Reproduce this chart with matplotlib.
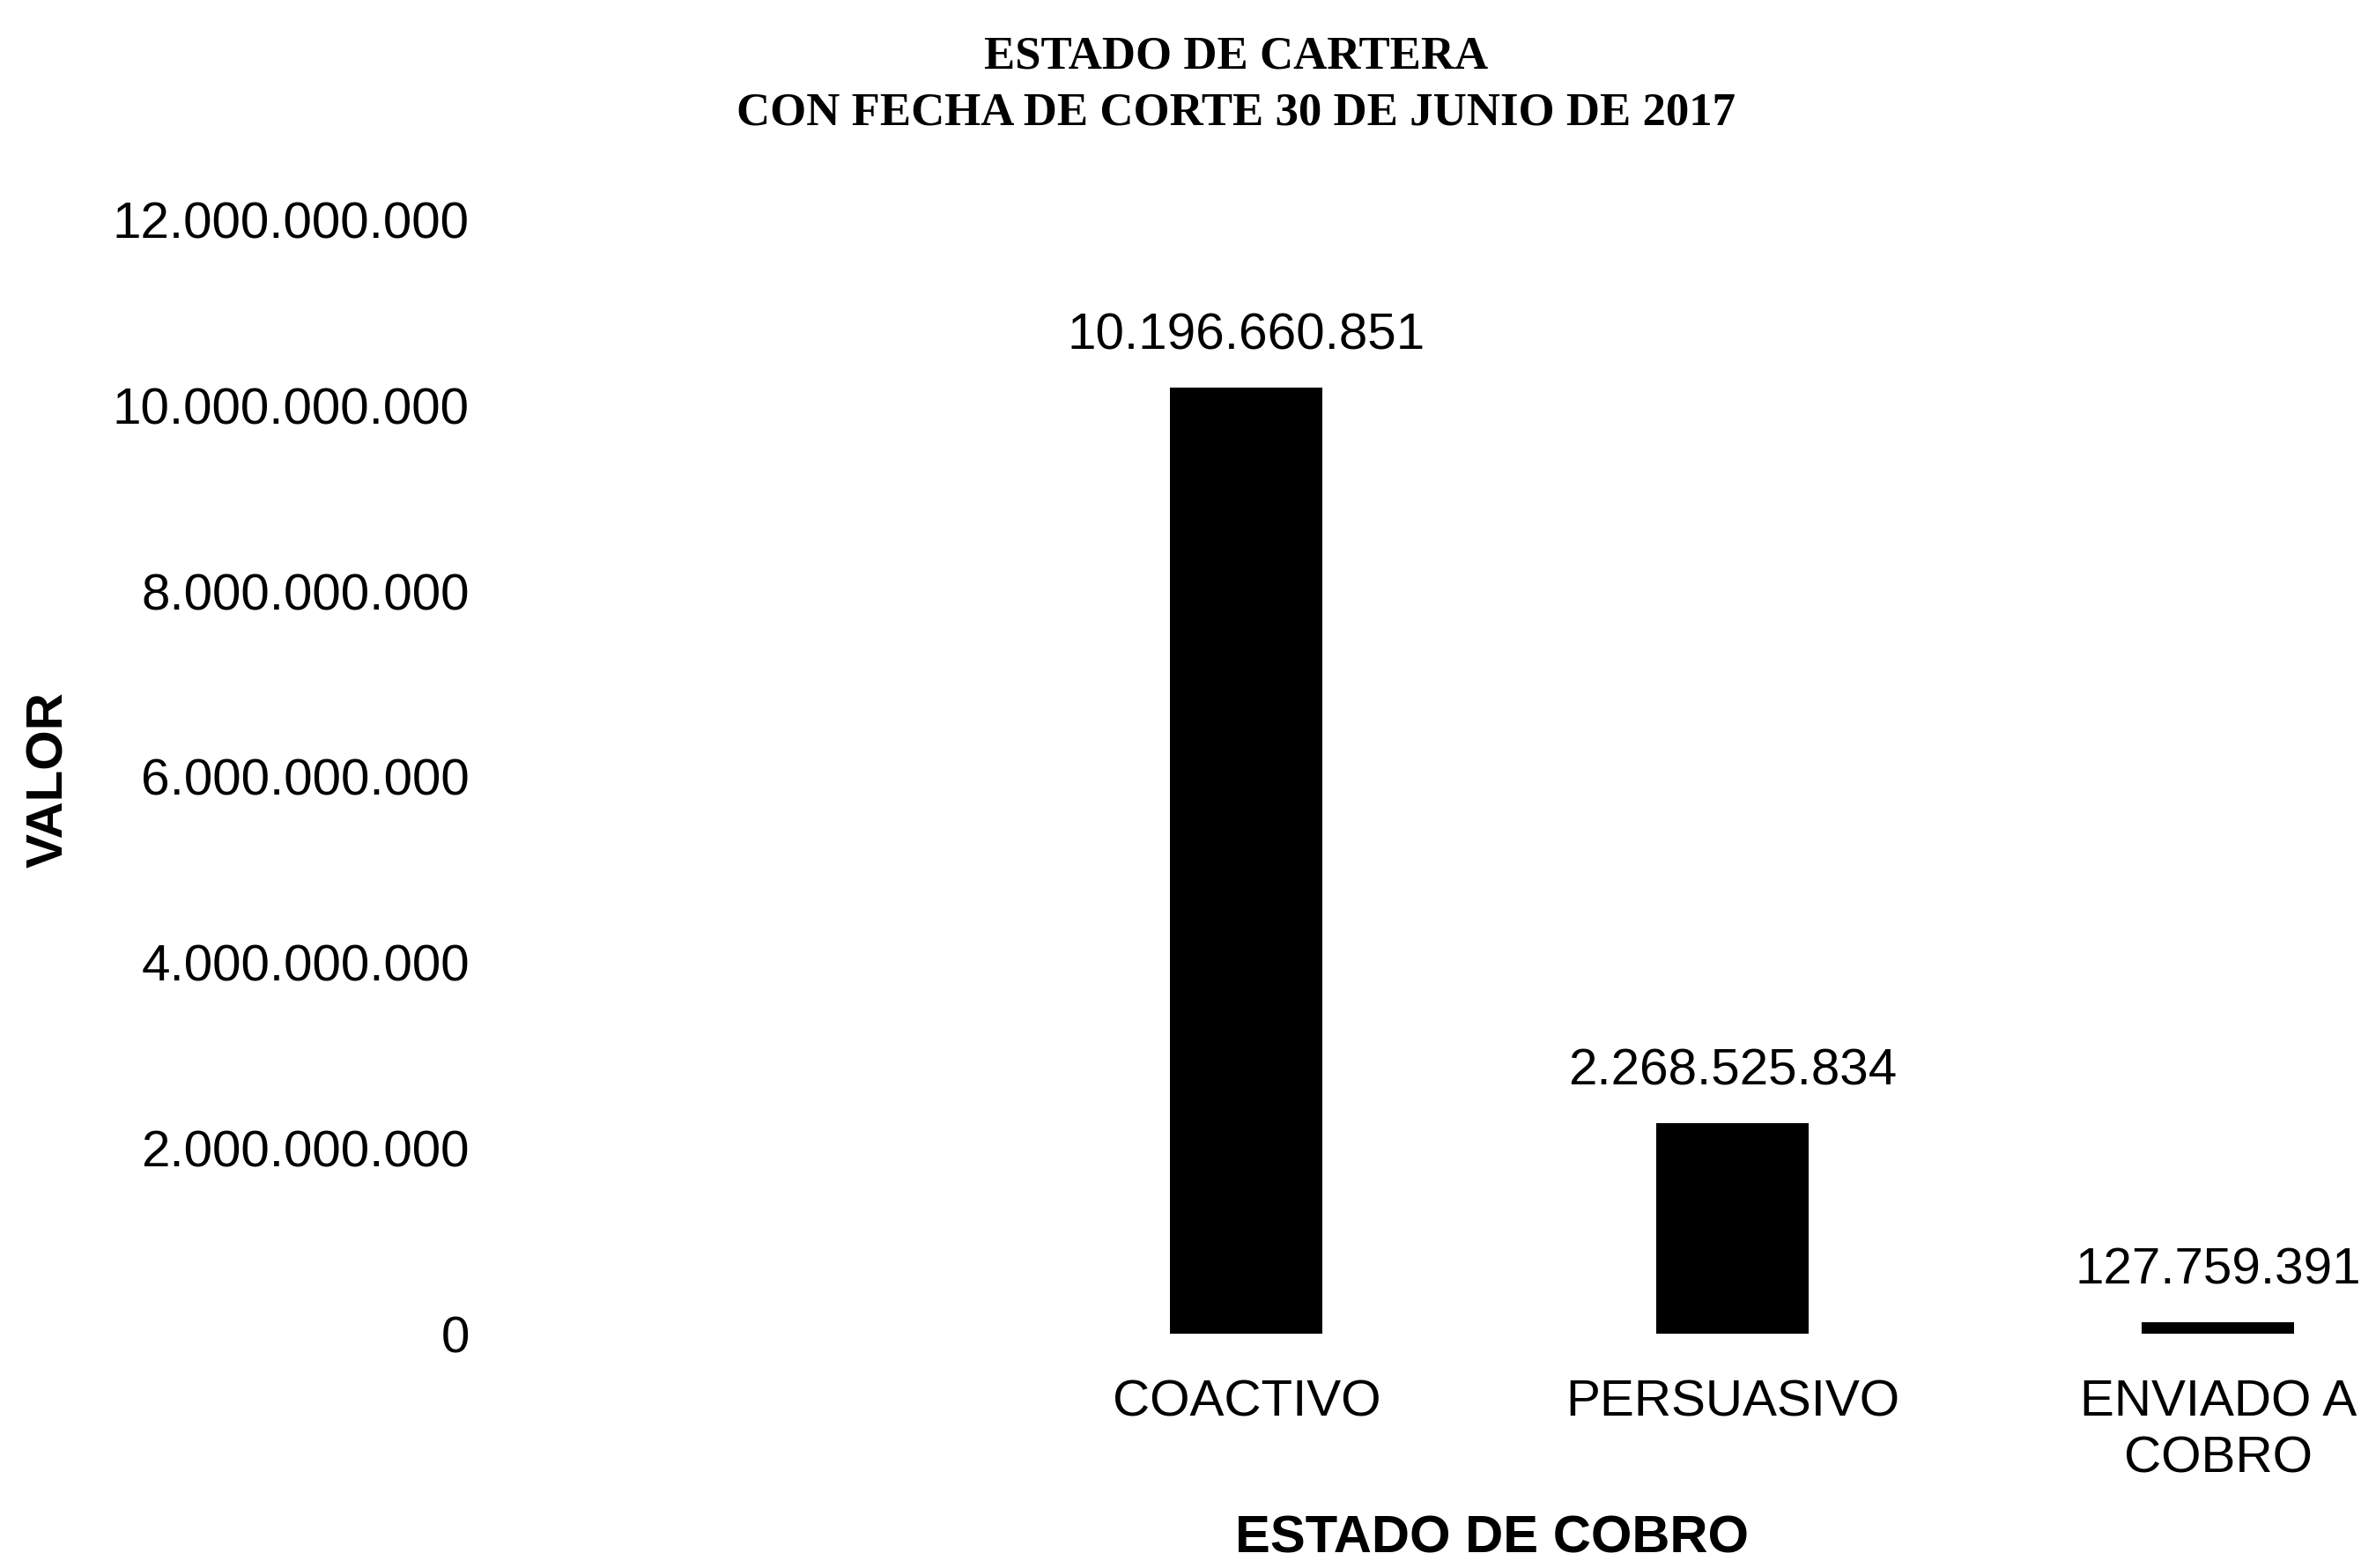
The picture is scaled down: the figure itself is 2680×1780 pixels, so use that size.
import matplotlib
matplotlib.use('Agg')
import matplotlib.pyplot as plt
from matplotlib.ticker import FuncFormatter

# datos
categorias = ['COACTIVO', 'PERSUASIVO', 'ENVIADO A\nCOBRO']
valores = [10196660851, 2268525834, 127759391]
ticks_y = [0, 2000000000, 4000000000, 6000000000, 8000000000, 10000000000, 12000000000]

titulo_1 = 'ESTADO DE CARTERA'
titulo_2 = 'CON FECHA DE CORTE 30 DE JUNIO DE 2017'
etiqueta_x = 'ESTADO DE COBRO'
etiqueta_y = 'VALOR'


def miles(v, pos=None):
    # separador de miles con punto
    return f'{int(round(v)):,}'.replace(',', '.')


plt.rcParams['font.family'] = ['Liberation Sans', 'DejaVu Sans']
tam = 42

fig = plt.figure(figsize=(26.8, 17.8), dpi=100)
fig.patch.set_facecolor('white')
ax = fig.add_axes([0.21, 0.1494, 0.79, 0.7102])

posiciones = list(range(len(categorias)))
barras = ax.bar(posiciones, valores, width=0.314, color='black', edgecolor='black', linewidth=0)

for b, v in zip(barras, valores):
    ax.annotate(miles(v), (b.get_x() + b.get_width() / 2, b.get_height()),
                xytext=(0, 42), textcoords='offset points',
                ha='center', va='center', fontsize=tam)

ax.set_ylim(0, 12000000000)
ax.set_xlim(-1.545, 2.294)
ax.set_yticks(ticks_y)
ax.yaxis.set_major_formatter(FuncFormatter(miles))
ax.set_xticks(posiciones)
ax.set_xticklabels(categorias, linespacing=1.25)

ax.tick_params(axis='y', length=0, pad=21.6, labelsize=tam)
ax.tick_params(axis='x', length=0, pad=37, labelsize=tam)
for lado in ['top', 'right', 'left', 'bottom']:
    ax.spines[lado].set_visible(False)

fig.text(0.632, 0.0185, etiqueta_x, ha='center', va='center', fontsize=43, fontweight='bold')
fig.text(0.021, 0.503, etiqueta_y, ha='center', va='center', rotation=90, fontsize=tam, fontweight='bold')

fig.text(0.5235, 0.9635, titulo_1, ha='center', va='center', fontsize=38,
         fontweight='bold', family='Liberation Serif')
fig.text(0.5235, 0.928, titulo_2, ha='center', va='center', fontsize=38,
         fontweight='bold', family='Liberation Serif')

fig.savefig('out.png', dpi=100, facecolor='white')
